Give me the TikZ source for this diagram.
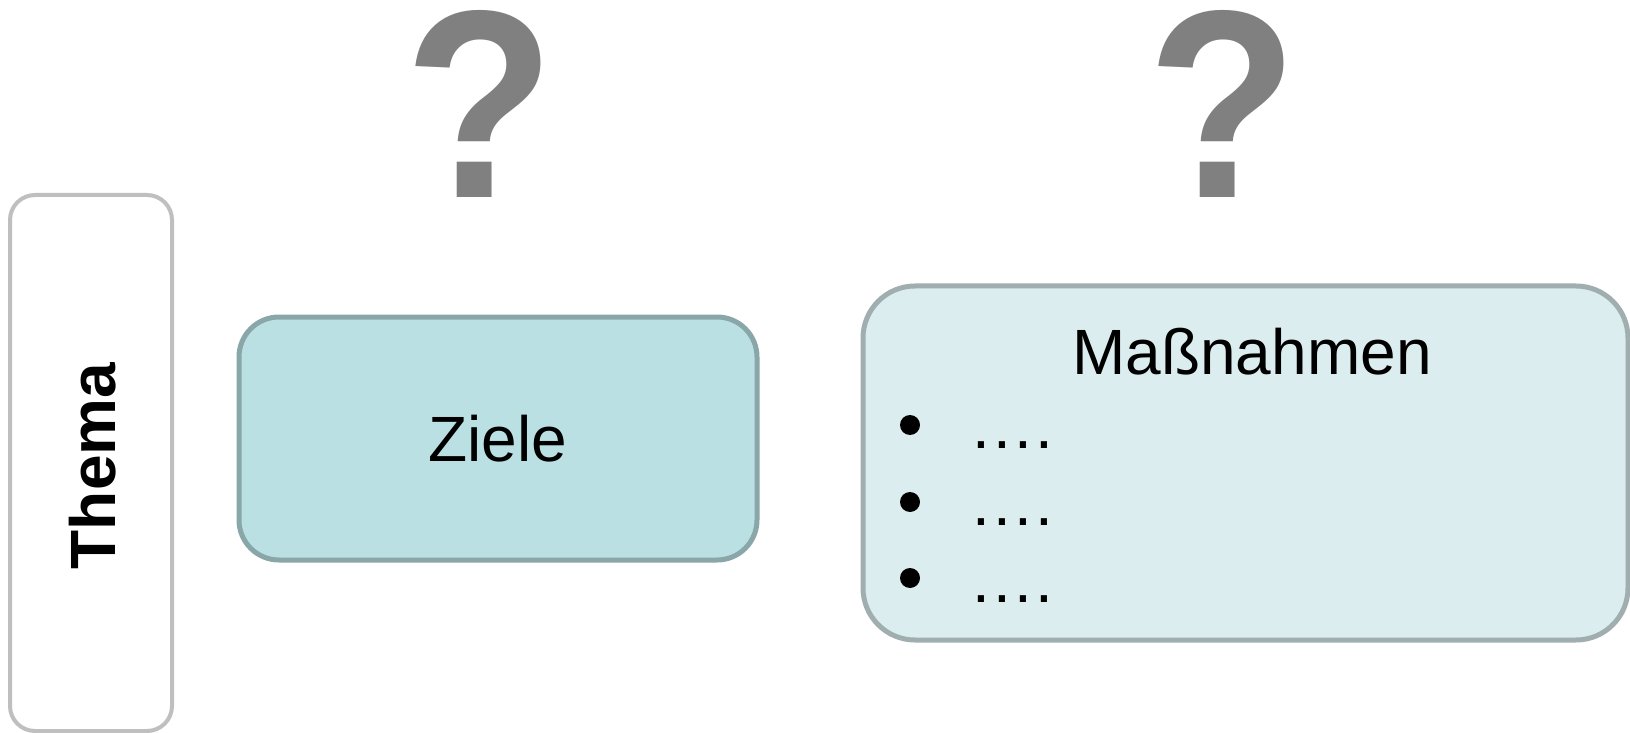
\documentclass[tikz,border=0pt]{standalone}
\usepackage{fontspec}
\setmainfont{Liberation Sans}
\definecolor{themaline}{RGB}{191,191,191}
\definecolor{zielefill}{RGB}{187,224,227}
\definecolor{zieleline}{RGB}{137,166,168}
\definecolor{massfill}{RGB}{219,237,239}
\definecolor{massline}{RGB}{160,174,175}
\definecolor{qgray}{RGB}{128,128,128}
\begin{document}
\begin{tikzpicture}[x=0.5pt,y=-0.5pt,
  every node/.style={inner sep=0pt, outer sep=0pt},
  boxstyle/.style={draw, rectangle, line width=2.5pt},
  qmark/.style={text=qgray, font=\fontsize{134}{134}\selectfont\bfseries, xscale=0.92},
  bigtext/.style={font=\fontsize{32}{36}\selectfont},
  bulletdot/.style={circle, fill=black, minimum size=10pt}
]
\useasboundingbox (0,0) rectangle (1630,733);
% Thema
\node[boxstyle, draw=themaline, line width=2pt, fill=white, rounded corners=12.5pt,
      minimum width=81pt, minimum height=268pt] (thema) at (91,463) {};
\node[bigtext, font=\fontsize{32}{36}\selectfont\bfseries, rotate=90] (thematext) at (93,466) {Thema};
% Ziele
\node[boxstyle, draw=zieleline, fill=zielefill, rounded corners=20pt,
      minimum width=259pt, minimum height=121.5pt, bigtext] (ziele) at (498,438.5) {Ziele};
% Massnahmen
\node[boxstyle, draw=massline, fill=massfill, rounded corners=26pt,
      minimum width=382.5pt, minimum height=177pt] (mass) at (1245.5,463) {};
\node[bigtext, anchor=base] (masstitle) at (1252,374) {Maßnahmen};
\node[bulletdot] (b1) at (910,425) {};
\node[bulletdot] (b2) at (910,502) {};
\node[bulletdot] (b3) at (910,578) {};
\node[bigtext, anchor=base west] (d1) at (972,448) {.\kern1.75pt.\kern1.75pt.\kern1.75pt.};
\node[bigtext, anchor=base west] (d2) at (972,525) {.\kern1.75pt.\kern1.75pt.\kern1.75pt.};
\node[bigtext, anchor=base west] (d3) at (972,602) {.\kern1.75pt.\kern1.75pt.\kern1.75pt.};
% Question marks
\node[qmark] (q1) at (480,103.5) {?};
\node[qmark] (q2) at (1223,103.5) {?};
\end{tikzpicture}
\end{document}
